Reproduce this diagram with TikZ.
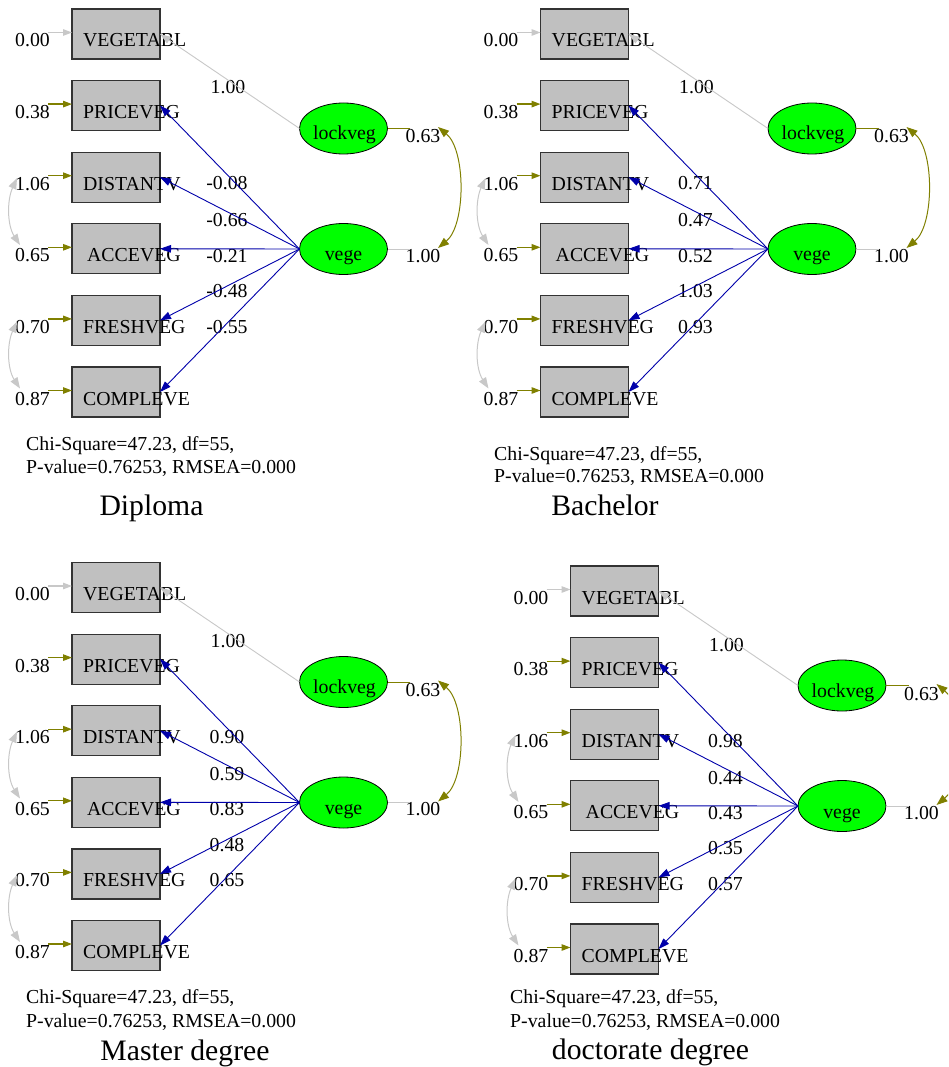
\documentclass[tikz,border=0pt]{standalone}
\usepackage{fontspec}
\setmainfont{Liberation Serif}
\usetikzlibrary{arrows.meta,shapes.geometric}
\definecolor{boxgray}{RGB}{192,192,192}
\definecolor{limec}{RGB}{0,255,0}
\definecolor{olivec}{RGB}{128,128,0}
\definecolor{bluec}{RGB}{0,0,170}
\definecolor{lgray}{RGB}{200,200,200}
\tikzset{
  obsbox/.style={draw=black!80, line width=1.2pt, fill=boxgray, minimum width=88pt, minimum height=50pt, inner sep=0pt, outer sep=0pt},
  latent/.style={ellipse, draw=black, line width=0.8pt, fill=limec, minimum width=88pt, minimum height=51pt, inner sep=0pt, outer sep=0pt},
  lbl/.style={font=\fontsize{19.8}{22}\selectfont, inner sep=0pt, anchor=base},
  stat/.style={font=\fontsize{19.8}{23}\selectfont, inner sep=0pt, anchor=base west},
  ttl/.style={font=\fontsize{29.7}{33}\selectfont, inner sep=0pt, anchor=base},
  loadarrow/.style={draw=bluec, line width=0.9pt, -{Triangle[length=11pt,width=7.5pt]}},
  grayarrow/.style={draw=lgray, line width=0.9pt, -{Triangle[length=11pt,width=7.5pt]}},
  errolive/.style={draw=olivec, line width=1.2pt, -{Triangle[length=9pt,width=6.5pt]}},
  errgray/.style={draw=lgray, line width=1.2pt, -{Triangle[length=9pt,width=6.5pt]}},
  covgray/.style={draw=lgray, line width=1pt, {Triangle[length=11pt,width=8pt]}-{Triangle[length=11pt,width=8pt]}},
  covolive/.style={draw=olivec, line width=1pt, {Triangle[length=11pt,width=8pt]}-{Triangle[length=11pt,width=8pt]}},
  varolive/.style={draw=olivec, line width=1pt},
  vargray/.style={draw=lgray, line width=1pt},
}
\newcommand\sempanel[7]{%
\begin{scope}[shift={#2}]
\node[obsbox] (#1b1) at (116,34) {};
\node[obsbox] (#1b2) at (116,105.6) {};
\node[obsbox] (#1b3) at (116,177.2) {};
\node[obsbox] (#1b4) at (116,248.8) {};
\node[obsbox] (#1b5) at (116,320.4) {};
\node[obsbox] (#1b6) at (116,392) {};
\node[lbl,anchor=base west] (#1n1) at (83,47) {VEGETABL};
\node[lbl,anchor=base west] (#1n2) at (83,118.6) {PRICEVEG};
\node[lbl,anchor=base west] (#1n3) at (83,190.2) {DISTANTV};
\node[lbl,anchor=base west] (#1n4) at (87,261.8) {ACCEVEG};
\node[lbl,anchor=base west] (#1n5) at (83,333.4) {FRESHVEG};
\node[lbl,anchor=base west] (#1n6) at (83,405) {COMPLEVE};
\node[lbl,anchor=base east] (#1e1) at (50,47) {0.00};
\node[lbl,anchor=base east] (#1e2) at (50,118.6) {0.38};
\node[lbl,anchor=base east] (#1e3) at (50,190.2) {1.06};
\node[lbl,anchor=base east] (#1e4) at (50,261.8) {0.65};
\node[lbl,anchor=base east] (#1e5) at (50,333.4) {0.70};
\node[lbl,anchor=base east] (#1e6) at (50,405) {0.87};
\node[latent] (#1lock) at (343.5,128.5) {};
\node[latent] (#1vege) at (343.5,249) {};
\node[lbl] (#1ln) at (344.5,140) {lockveg};
\node[lbl] (#1vn) at (343.5,261) {vege};
\node[lbl] (#1l0) at (228,94) {1.00};
\node[lbl] (#1l1) at (227,190) {#3};
\node[lbl] (#1l2) at (227,227) {#4};
\node[lbl] (#1l3) at (227,262) {#5};
\node[lbl] (#1l4) at (227,297.5) {#6};
\node[lbl] (#1l5) at (227,333) {#7};
\node[lbl] (#1v1) at (423,143) {0.63};
\node[lbl] (#1v2) at (423,262) {1.00};
% free ends
\coordinate (#1s1) at (48,32.5);
\coordinate (#1s2) at (48,104.1);
\coordinate (#1s3) at (48,175.7);
\coordinate (#1s4) at (48,247.3);
\coordinate (#1s5) at (48,318.9);
\coordinate (#1s6) at (48,390.5);
\coordinate (#1r1) at (410,128.5);
\coordinate (#1r2) at (410,249);
\coordinate (#1c1) at (438,127);
\coordinate (#1c2) at (438,248);
\coordinate (#1d1) at (17,178);
\coordinate (#1d2) at (20,245);
\coordinate (#1d3) at (17,321.5);
\coordinate (#1d4) at (20,388.5);
% connectors
\draw[errgray] (#1s1) -- (#1s1 -| #1b1.west);
\draw[errolive] (#1s2) -- (#1s2 -| #1b2.west);
\draw[errolive] (#1s3) -- (#1s3 -| #1b3.west);
\draw[errolive] (#1s4) -- (#1s4 -| #1b4.west);
\draw[errolive] (#1s5) -- (#1s5 -| #1b5.west);
\draw[errolive] (#1s6) -- (#1s6 -| #1b6.west);
\draw[grayarrow] (#1lock.west) -- (#1b1.east);
\draw[loadarrow] (#1vege.west) -- (#1b2.east);
\draw[loadarrow] (#1vege.west) -- (#1b3.east);
\draw[loadarrow] (#1vege.west) -- (#1b4.east);
\draw[loadarrow] (#1vege.west) -- (#1b5.east);
\draw[loadarrow] (#1vege.west) -- (#1b6.east);
\draw[varolive] (#1lock.east) -- (#1r1);
\draw[vargray] (#1vege.east) -- (#1r2);
\draw[covolive] (#1c1) .. controls (466,150) and (466,225) .. (#1c2);
\draw[covgray] (#1d1) .. controls (7,200) and (7,225) .. (#1d2);
\draw[covgray] (#1d3) .. controls (7,343.5) and (7,368.5) .. (#1d4);
\end{scope}}
\begin{document}
\begin{tikzpicture}[x=1pt,y=-1pt]
\path[use as bounding box] (0,0) rectangle (948,1067);
\clip (0,0) rectangle (948,1067);
\fill[white] (0,0) rectangle (948,1067);
\sempanel{A}{(0,0)}{-0.08}{-0.66}{-0.21}{-0.48}{-0.55}
\sempanel{B}{(468.5,0)}{0.71}{0.47}{0.52}{1.03}{0.93}
\sempanel{C}{(0,553.5)}{0.90}{0.59}{0.83}{0.48}{0.65}
\sempanel{D}{(498.5,557)}{0.98}{0.44}{0.43}{0.35}{0.57}
% fit statistics and titles
\node[stat] (As1) at (26,450) {Chi-Square=47.23, df=55,};
\node[stat] (As2) at (26,473) {P-value=0.76253, RMSEA=0.000};
\node[ttl] (At) at (151.5,515) {Diploma};
\node[stat] (Bs1) at (494,460) {Chi-Square=47.23, df=55,};
\node[stat] (Bs2) at (494,482.5) {P-value=0.76253, RMSEA=0.000};
\node[ttl] (Bt) at (605,515) {Bachelor};
\node[stat] (Cs1) at (26,1003) {Chi-Square=47.23, df=55,};
\node[stat] (Cs2) at (26,1027) {P-value=0.76253, RMSEA=0.000};
\node[ttl] (Ct) at (185,1060) {Master degree};
\node[stat] (Ds1) at (510,1003) {Chi-Square=47.23, df=55,};
\node[stat] (Ds2) at (510,1027) {P-value=0.76253, RMSEA=0.000};
\node[ttl] (Dt) at (650.5,1059) {doctorate degree};
\end{tikzpicture}
\end{document}
